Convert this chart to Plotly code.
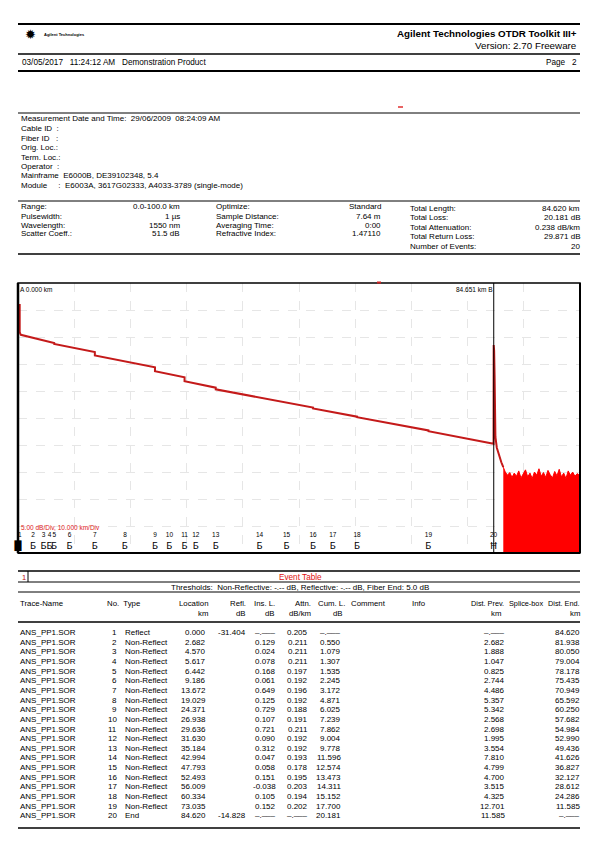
import plotly.graph_objects as go

W, H = 603, 851
FONT = "Arial, Liberation Sans, sans-serif"
DASH = "–.–––"

# ---- event table data
ev_no = list(range(1, 21))
ev_type = ["Reflect"] + ["Non-Reflect"] * 18 + ["End"]
ev_loc = [0.000, 2.682, 4.570, 5.617, 6.442, 9.186, 13.672, 19.029, 24.371, 26.938,
          29.636, 31.630, 35.184, 42.994, 47.793, 52.493, 56.009, 60.334, 73.035, 84.620]
ev_refl = [-31.404] + [None] * 18 + [-14.828]
ev_ins = [None, 0.129, 0.024, 0.078, 0.168, 0.061, 0.649, 0.125, 0.729, 0.107,
          0.721, 0.090, 0.312, 0.047, 0.058, 0.151, -0.038, 0.105, 0.152, None]
ev_attn = [0.205, 0.211, 0.211, 0.211, 0.197, 0.192, 0.196, 0.192, 0.188, 0.191,
           0.211, 0.192, 0.192, 0.193, 0.178, 0.195, 0.203, 0.194, 0.202, None]
ev_cum = [None, 0.550, 1.079, 1.307, 1.535, 2.245, 3.172, 4.871, 6.025, 7.239,
          7.862, 9.004, 9.778, 11.596, 12.574, 13.473, 14.311, 15.152, 17.700, 20.181]
ev_prev = [None, 2.682, 1.888, 1.047, 0.825, 2.744, 4.486, 5.357, 5.342, 2.568,
           2.698, 1.995, 3.554, 7.810, 4.799, 4.700, 3.515, 4.325, 12.701, 11.585]
ev_end = [84.620, 81.938, 80.050, 79.004, 78.178, 75.435, 70.949, 65.592, 60.250, 57.682,
          54.984, 52.990, 49.436, 41.626, 36.827, 32.127, 28.612, 24.286, 11.585, None]
ev_glyph = ["█"] + ["Б"] * 18 + ["Ħ"]

# ---- trace (km, dB)
trace_km = [0.3, 0.3, 0.5, 2.682, 2.682, 4.570, 4.570, 5.617, 5.617, 6.442, 6.442,
            9.186, 9.186, 13.672, 13.672, 19.029, 19.029, 24.371, 24.371, 26.938, 26.938,
            29.636, 29.636, 31.630, 31.630, 35.184, 35.184, 42.994, 42.994, 47.793, 47.793,
            52.493, 52.493, 56.009, 56.009, 60.334, 60.334, 73.035, 73.035, 84.620,
            84.64, 84.72, 84.80, 84.85, 84.95, 85.2, 85.6, 86.0, 86.35]
trace_db = [46.1, 40.9, 40.4, 39.85, 39.72, 39.32, 39.30, 39.09, 39.02, 38.87, 38.70,
            38.16, 38.09, 37.23, 36.58, 35.53, 35.40, 34.38, 33.65, 33.16, 33.05,
            32.54, 31.82, 31.40, 31.31, 30.62, 30.31, 28.80, 28.76, 27.83, 27.77,
            26.93, 26.77, 26.09, 26.13, 25.25, 25.14, 22.70, 22.55, 20.22,
            38.5, 37.5, 33.0, 26.0, 21.5, 19.5, 18.0, 16.8, 15.9]
noise_km = [86.35, 86.7, 87.1, 87.5, 87.9, 88.3, 88.7, 89.1, 89.5, 89.9, 90.3, 90.7,
            91.1, 91.5, 91.9, 92.3, 92.7, 93.1, 93.5, 93.9, 94.3, 94.7, 95.1, 95.5,
            95.9, 96.3, 96.7, 97.1, 97.5, 97.9, 98.3, 98.7, 99.1, 99.5, 100.0]
noise_db = [15.9, 15.0, 14.4, 14.9, 14.0, 14.8, 14.2, 15.2, 13.9, 14.7, 15.4, 14.1,
            14.8, 13.8, 15.0, 14.4, 15.6, 14.2, 14.9, 14.0, 15.3, 14.5, 13.9, 15.1,
            14.3, 15.5, 14.1, 14.8, 13.8, 15.2, 14.4, 15.0, 14.2, 14.7, 14.3]
cursor_b = 84.651

info_lines = ["Measurement Date and Time:  29/06/2009  08:24:09 AM", "Cable ID  :", "Fiber ID   :",
              "Orig. Loc.:", "Term. Loc.:", "Operator  :", "Mainframe  E6000B, DE39102348, 5.4",
              "Module     :  E6003A, 3617G02333, A4033-3789 (single-mode)"]
set_left = [("Range:", "0.0-100.0 km"), ("Pulsewidth:", "1 µs"), ("Wavelength:", "1550 nm"),
            ("Scatter Coeff.:", "51.5 dB")]
set_mid = [("Optimize:", "Standard"), ("Sample Distance:", "7.64 m"), ("Averaging Time:", "0:00"),
           ("Refractive Index:", "1.47110")]
set_right = [("Total Length:", "84.620 km"), ("Total Loss:", "20.181 dB"),
             ("Total Attenuation:", "0.238 dB/km"), ("Total Return Loss:", "29.871 dB"),
             ("Number of Events:", "20")]

shapes = []
annotations = []


def pline(x0, y0, x1, y1, w=1, color="black"):
    shapes.append(dict(type="line", xref="paper", yref="paper", x0=x0 / W, x1=x1 / W,
                       y0=1 - y0 / H, y1=1 - y1 / H, line=dict(color=color, width=w)))


def ptext(x, y, s, anchor="left", size=8, color="black"):
    annotations.append(dict(xref="paper", yref="paper", x=x / W, y=1 - y / H, text=s,
                            showarrow=False, xanchor=anchor, yanchor="middle", borderpad=0,
                            font=dict(size=size, color=color, family=FONT)))


def f3(v):
    return DASH if v is None else f"{v:.3f}"


# ---- page header
pline(18, 24, 580, 24, 2.2)
ptext(30, 35, "✹", "center", 13)
ptext(43, 34, "<b>Agilent Technologies</b>", "left", 4)
ptext(578, 33, "<b>Agilent Technologies OTDR Toolkit III+</b>", "right", 9.8)
ptext(578, 45, "Version: 2.70 Freeware", "right", 9.8)
pline(18, 54, 580, 54, 1.5)
ptext(21, 62, "03/05/2017   11:24:12 AM   Demonstration Product", "left", 8.2)
ptext(578, 62, "Page   2", "right", 8.2)
pline(18, 71, 580, 71, 2.2)
pline(398, 107, 403, 107, 1.5, "#e03030")

# ---- measurement info
pline(18, 113, 580, 113, 1)
for i, s in enumerate(info_lines):
    ptext(20, 119 + i * 9.5, s, "left", 8)

pline(18, 201, 580, 201, 1)
for i, (a, b) in enumerate(set_left):
    ptext(20, 207 + i * 9, a, "left", 8)
    ptext(181, 207 + i * 9, b, "right", 8)
for i, (a, b) in enumerate(set_mid):
    ptext(215, 207 + i * 9, a, "left", 8)
    ptext(382, 207 + i * 9, b, "right", 8)
for i, (a, b) in enumerate(set_right):
    ptext(409, 208 + i * 9.6, a, "left", 8)
    ptext(581, 208 + i * 9.6, b, "right", 8)
pline(18, 254, 580, 254, 1.5)

# ---- trace chart
cx0, cx1, cy0, cy1 = 18, 580, 283, 553
fig = go.Figure()
fig.add_trace(go.Scatter(x=noise_km, y=noise_db, mode="lines", fill="tozeroy",
                         fillcolor="#ff0000", line=dict(color="#ff0000", width=1)))
fig.add_trace(go.Scatter(x=trace_km, y=trace_db, mode="lines",
                         line=dict(color="#c41a1a", width=2)))
fig.add_trace(go.Scatter(x=ev_loc, y=[3.2] * 20, mode="text", text=[str(n) for n in ev_no],
                         textposition=["middle right"] + ["middle center"] * 19,
                         textfont=dict(size=6.5, color="black", family=FONT), cliponaxis=False))
fig.add_trace(go.Scatter(x=ev_loc, y=[1.1] * 20, mode="text", text=ev_glyph,
                         textfont=dict(size=9, color="black", family="DejaVu Sans"),
                         cliponaxis=False))

shapes.append(dict(type="line", xref="x", yref="y", x0=cursor_b, x1=cursor_b, y0=0, y1=50,
                   line=dict(color="black", width=1)))
shapes.append(dict(type="rect", xref="paper", yref="paper", x0=cx0 / W, x1=cx1 / W,
                   y0=1 - cy1 / H, y1=1 - cy0 / H, line=dict(color="black", width=1.5)))
pline(cx0, cy0, cx0, cy1, 2.5)
pline(cx0, cy1, cx1, cy1, 2)
pline(cx1, cy0, cx1, cy1, 2)
pline(377, 282.5, 381, 282.5, 2, "#d02020")
ptext(19, 289, "A 0.000 km", "left", 6.5)
ptext(494, 289, "84.651 km B", "right", 6.5)
ptext(20, 527, "5.00 dB/Div, 10.000 km/Div", "left", 6.5, "#e02020")

# ---- event table
pline(18, 571, 580, 571, 1.5)
pline(28, 571, 28, 582, 1)
ptext(21, 577, "1", "left", 7.5, "#c01010")
ptext(300, 577, "Event Table", "center", 8.2, "#e01010")
pline(18, 582, 580, 582, 1)
ptext(300, 587, "Thresholds:  Non-Reflective: -.-- dB, Reflective: -.-- dB, Fiber End: 5.0 dB",
      "center", 8)
pline(18, 592, 580, 592, 1)

h1, h2 = 603, 613
HS = 7.8
ptext(19, h1, "Trace-Name", "left", HS)
ptext(106, h1, "No.  Type", "left", HS)
ptext(209, h1, "Location", "right", HS)
ptext(209, h2, "km", "right", HS)
ptext(247, h1, "Refl.", "right", HS)
ptext(247, h2, "dB", "right", HS)
ptext(276, h1, "Ins. L.", "right", HS)
ptext(276, h2, "dB", "right", HS)
ptext(312, h1, "Attn.", "right", HS)
ptext(312, h2, "dB/km", "right", HS)
ptext(317, h1, "Cum. L.", "left", HS)
ptext(344, h2, "dB", "right", HS)
ptext(350, h1, "Comment", "left", HS)
ptext(411, h1, "Info", "left", HS)
ptext(505, h1, "Dist. Prev.", "right", 7.3)
ptext(502, h2, "km", "right", HS)
ptext(508, h1, "Splice-box", "left", 7.3)
ptext(581, h1, "Dist. End.", "right", 7.3)
ptext(581, h2, "km", "right", HS)
pline(18, 622, 580, 622, 1.5)

RS = 8
for i in range(20):
    y = 632.5 + i * 9.65
    ptext(19, y, "ANS_PP1.SOR", "left", RS)
    ptext(118, y, str(ev_no[i]), "right", RS)
    ptext(124, y, ev_type[i], "left", RS)
    ptext(207, y, f"{ev_loc[i]:.3f}", "right", RS)
    if ev_refl[i] is not None:
        ptext(247, y, f"{ev_refl[i]:.3f}", "right", RS)
    ptext(277, y, f3(ev_ins[i]), "right", RS)
    ptext(309, y, f3(ev_attn[i]), "right", RS)
    ptext(342, y, f3(ev_cum[i]), "right", RS)
    ptext(506, y, f3(ev_prev[i]), "right", RS)
    ptext(581, y, f3(ev_end[i]), "right", RS)
pline(18, 828, 580, 828, 1.5)

fig.update_xaxes(domain=[cx0 / W, cx1 / W], range=[0, 100], showticklabels=False,
                 showgrid=True, dtick=10, gridcolor="#e6e6e6", griddash="dash", gridwidth=1,
                 zeroline=False, showline=False, fixedrange=True)
fig.update_yaxes(domain=[1 - cy1 / H, 1 - cy0 / H], range=[0, 50], showticklabels=False,
                 showgrid=True, dtick=5, gridcolor="#e6e6e6", griddash="dash", gridwidth=1,
                 zeroline=False, showline=False, fixedrange=True)
fig.update_layout(width=W, height=H, margin=dict(l=0, r=0, t=0, b=0), showlegend=False,
                  paper_bgcolor="white", plot_bgcolor="white",
                  shapes=shapes, annotations=annotations, font=dict(family=FONT))
fig.write_html("out.html", config={"displayModeBar": False},
               post_script="document.body.style.margin='0';document.body.style.overflow='hidden';")
